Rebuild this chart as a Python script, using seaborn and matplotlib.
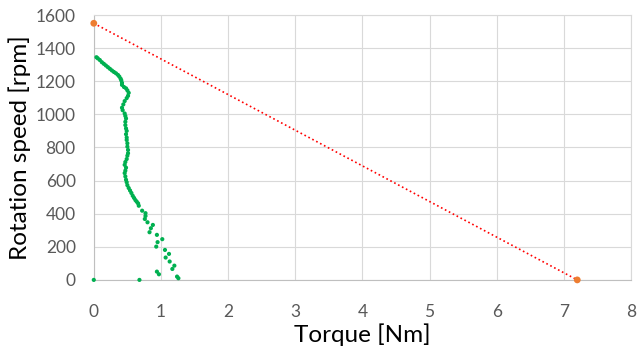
import numpy as np
import pandas as pd
import matplotlib
matplotlib.use("Agg")
import matplotlib.pyplot as plt
import seaborn as sns

# measured points (green)
meas_torque = [0.04, 0.06, 0.09, 0.12, 0.15, 0.18, 0.21, 0.24, 0.27, 0.30, 0.33, 0.36, 0.38, 0.40,
               0.41, 0.42, 0.42, 0.45, 0.48, 0.50, 0.52, 0.51, 0.49, 0.46, 0.44, 0.42, 0.43, 0.46,
               0.47, 0.48, 0.47, 0.47, 0.48, 0.49, 0.48, 0.49, 0.49, 0.50, 0.50, 0.51, 0.51, 0.50,
               0.49, 0.47, 0.46, 0.48, 0.47, 0.46, 0.47, 0.48, 0.49, 0.50, 0.52, 0.54, 0.56, 0.58,
               0.60, 0.62, 0.64, 0.66, 0.67,
               0.72, 0.77, 0.77, 0.76, 0.80, 0.88, 0.85, 0.83, 0.94, 1.02, 0.95, 0.93, 1.06, 1.12,
               1.07, 1.13, 1.20, 1.17, 0.94, 0.97, 1.24, 1.26, 0.0, 0.68]
meas_speed = [1345, 1338, 1328, 1315, 1305, 1295, 1285, 1275, 1265, 1256, 1248, 1238, 1228, 1215,
              1205, 1190, 1178, 1165, 1157, 1145, 1130, 1112, 1098, 1080, 1060, 1040, 1025, 1005,
              990, 975, 955, 935, 915, 900, 880, 860, 845, 825, 805, 785, 765, 750,
              730, 712, 695, 678, 660, 645, 625, 605, 590, 572, 555, 540, 525, 508,
              495, 482, 472, 462, 448,
              418, 403, 386, 368, 348, 332, 312, 288, 272, 246, 228, 201, 181, 157,
              135, 111, 86, 66, 50, 34, 20, 10, 0, 0]

# rated line (orange)
line_torque = [0.0, 7.2]
line_speed = [1550, 0]

sns.set_style("whitegrid", {"grid.color": "#D9D9D9", "axes.edgecolor": "#D9D9D9"})
plt.rcParams["font.family"] = ["Lato", "DejaVu Sans"]

fig = plt.figure(figsize=(6.38, 3.49), dpi=100)
ax = fig.add_axes([0.147, 0.198, 0.842, 0.759])

meas = pd.DataFrame({"torque": meas_torque, "speed": meas_speed})
line = pd.DataFrame({"torque": line_torque, "speed": line_speed})

sns.lineplot(data=line, x="torque", y="speed", sort=False, color="red",
             linestyle=":", linewidth=1.2, ax=ax)
sns.scatterplot(data=line, x="torque", y="speed", color="#ED7D31", s=24,
                edgecolor="none", ax=ax, zorder=3, clip_on=False)
sns.scatterplot(data=meas, x="torque", y="speed", color="#00B050", s=9,
                edgecolor="none", ax=ax, zorder=3, clip_on=False)

ax.set_xlim(0, 8)
ax.set_ylim(0, 1600)
ax.set_xticks(range(0, 9))
ax.set_yticks(range(0, 1601, 200))
ax.tick_params(axis="both", length=0, labelsize=12.5, labelcolor="#595959")
ax.tick_params(axis="x", pad=17)
ax.tick_params(axis="y", pad=13)
ax.spines["left"].set_color("#BFBFBF")
ax.spines["bottom"].set_color("#BFBFBF")
ax.set_xlabel("Torque [Nm]", fontsize=17.5, color="black", labelpad=3)
ax.set_ylabel("Rotation speed [rpm]", fontsize=17.5, color="black", labelpad=3)

fig.savefig("out.png", dpi=100)
